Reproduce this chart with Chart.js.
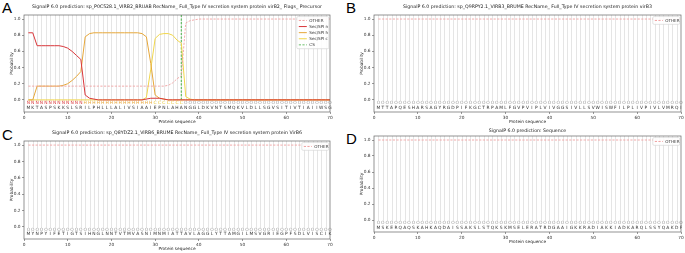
<!DOCTYPE html>
<html>
<head>
<meta charset="utf-8">
<script src="https://cdn.jsdelivr.net/npm/chart.js@4.4.0/dist/chart.umd.min.js"></script>
<style>
  body { margin: 0; background: #fff; width: 685px; height: 253px; position: relative; overflow: hidden; }
  .panel { position: absolute; }
  .tag { position: absolute; font: 15px "Liberation Sans", Arial, sans-serif; color: #000; }
</style>
</head>
<body>
<div class="tag" style="left:2px;top:-1px">A</div>
<div class="tag" style="left:346px;top:-1px">B</div>
<div class="tag" style="left:2px;top:126px">C</div>
<div class="tag" style="left:346px;top:130px">D</div>
<div class="panel" style="left:0;top:0"><canvas id="chartA" width="340" height="126"></canvas></div>
<div class="panel" style="left:340px;top:0"><canvas id="chartB" width="345" height="126"></canvas></div>
<div class="panel" style="left:0;top:126px"><canvas id="chartC" width="340" height="127"></canvas></div>
<div class="panel" style="left:340px;top:126px"><canvas id="chartD" width="345" height="127"></canvas></div>
<script>
// ---- data ----
var xTicks = [0, 10, 20, 30, 40, 50, 60, 70];
var yTicks = [0, 0.2, 0.4, 0.6, 0.8, 1.0];

var titleA = 'SignalP 6.0 prediction: sp_P0C528.1_VIRB2_BRUAB RecName_ Full_Type IV secretion system protein virB2_ Flags_ Precursor';
var seqA = 'MKTASPSKKSLSRILPHLLLALIVSIAAIEPNLAHANGGLDKVNTSMQKVLDLLSGVSITIVTIAIIWSG';
var regionsA = 'NNNNNNNNNNNNNHHHHHHHHHHHHHHHHCCCCCCCOOOOOOOOOOOOOOOOOOOOOOOOOOOOOOOOOO';
var otherA = [0.17, 0.17, 0.17, 0.17, 0.17, 0.17, 0.17, 0.17, 0.17, 0.17,
  0.17, 0.17, 0.17, 0.17, 0.17, 0.17, 0.17, 0.17, 0.17, 0.17,
  0.17, 0.17, 0.17, 0.17, 0.17, 0.17, 0.17, 0.17, 0.17, 0.17,
  0.17, 0.17, 0.18, 0.21, 0.26, 0.30, 0.95, 0.98, 0.99, 1.0,
  1.0, 1.0, 1.0, 1.0, 1.0, 1.0, 1.0, 1.0, 1.0, 1.0,
  1.0, 1.0, 1.0, 1.0, 1.0, 1.0, 1.0, 1.0, 1.0, 1.0,
  1.0, 1.0, 1.0, 1.0, 1.0, 1.0, 1.0, 1.0, 1.0, 1.0];
var secNA = [0.83, 0.83, 0.67, 0.67, 0.67, 0.67, 0.67, 0.67, 0.66, 0.64,
  0.60, 0.55, 0.50, 0.06, 0.02, 0.01, 0, 0, 0, 0,
  0, 0, 0, 0, 0, 0, 0, 0.01, 0.02, 0.02,
  0.02, 0.01, 0, 0, 0, 0, 0, 0, 0, 0,
  0, 0, 0, 0, 0, 0, 0, 0, 0, 0,
  0, 0, 0, 0, 0, 0, 0, 0, 0, 0,
  0, 0, 0, 0, 0, 0, 0, 0, 0, 0];
var secHA = [0, 0, 0.17, 0.17, 0.17, 0.17, 0.17, 0.17, 0.18, 0.20,
  0.24, 0.29, 0.35, 0.78, 0.82, 0.83, 0.83, 0.83, 0.83, 0.83,
  0.83, 0.83, 0.83, 0.83, 0.83, 0.83, 0.82, 0.78, 0.45, 0.06,
  0.02, 0.01, 0, 0, 0, 0, 0, 0, 0, 0,
  0, 0, 0, 0, 0, 0, 0, 0, 0, 0,
  0, 0, 0, 0, 0, 0, 0, 0, 0, 0,
  0, 0, 0, 0, 0, 0, 0, 0, 0, 0];
var secCA = [0, 0, 0, 0, 0, 0, 0, 0, 0, 0,
  0, 0, 0, 0, 0, 0, 0, 0, 0, 0,
  0, 0, 0, 0, 0, 0, 0, 0.03, 0.38, 0.76,
  0.81, 0.82, 0.82, 0.80, 0.74, 0.70, 0.04, 0.01, 0, 0,
  0, 0, 0, 0, 0, 0, 0, 0, 0, 0,
  0, 0, 0, 0, 0, 0, 0, 0, 0, 0,
  0, 0, 0, 0, 0, 0, 0, 0, 0, 0];
var csA = 36;

var titleB = 'SignalP 6.0 prediction: sp_Q9RPY2.1_VIRB3_BRUME RecName_ Full_Type IV secretion system protein virB3';
var seqB = 'MTTAPQESHARSAGYRGDPIFKGCTRPAMLFGVPVIPLVIVGGSIVLLSVWISWFILPLIVPIVLVMRQI';
var regionsB = 'OOOOOOOOOOOOOOOOOOOOOOOOOOOOOOOOOOOOOOOOOOOOOOOOOOOOOOOOOOOOOOOOOOOOOO';
var otherB = [1.0, 1.0, 1.0, 1.0, 1.0, 1.0, 1.0, 1.0, 1.0, 1.0,
  1.0, 1.0, 1.0, 1.0, 1.0, 1.0, 1.0, 1.0, 1.0, 1.0,
  1.0, 1.0, 1.0, 1.0, 1.0, 1.0, 1.0, 1.0, 1.0, 1.0,
  1.0, 1.0, 1.0, 1.0, 1.0, 1.0, 1.0, 1.0, 1.0, 1.0,
  1.0, 1.0, 1.0, 1.0, 1.0, 1.0, 1.0, 1.0, 1.0, 1.0,
  1.0, 1.0, 1.0, 1.0, 1.0, 1.0, 1.0, 1.0, 1.0, 1.0,
  1.0, 1.0, 1.0, 1.0, 1.0, 1.0, 1.0, 1.0, 1.0, 1.0];

var titleC = 'SignalP 6.0 prediction: sp_Q8YDZ2.1_VIRB6_BRUME RecName_ Full_Type IV secretion system protein VirB6';
var seqC = 'MYNPYIFETIGTSIHNGLNNTVTMVASNIMNMIATTAVLAGGLYTTAMGILMSVGRIEGPFSDLVISCIK';
var regionsC = 'OOOOOOOOOOOOOOOOOOOOOOOOOOOOOOOOOOOOOOOOOOOOOOOOOOOOOOOOOOOOOOOOOOOOOO';
var otherC = [1.0, 1.0, 1.0, 1.0, 1.0, 1.0, 1.0, 1.0, 1.0, 1.0,
  1.0, 1.0, 1.0, 1.0, 1.0, 1.0, 1.0, 1.0, 1.0, 1.0,
  1.0, 1.0, 1.0, 1.0, 1.0, 1.0, 1.0, 1.0, 1.0, 1.0,
  1.0, 1.0, 1.0, 1.0, 1.0, 1.0, 1.0, 1.0, 1.0, 1.0,
  1.0, 1.0, 1.0, 1.0, 1.0, 1.0, 1.0, 1.0, 1.0, 1.0,
  1.0, 1.0, 1.0, 1.0, 1.0, 1.0, 1.0, 1.0, 1.0, 1.0,
  1.0, 1.0, 1.0, 1.0, 1.0, 1.0, 1.0, 1.0, 1.0, 1.0];

var titleD = 'SignalP 6.0 prediction: Sequence';
var seqD = 'MSKERQAQSKAHKAQDAISSAKSLSTQKSKMSELERATRDGAAIGKKRADIAKKIADKARQLSSYQAKDF';
var regionsD = 'OOOOOOOOOOOOOOOOOOOOOOOOOOOOOOOOOOOOOOOOOOOOOOOOOOOOOOOOOOOOOOOOOOOOOO';
var otherD = [1.0, 1.0, 1.0, 1.0, 1.0, 1.0, 1.0, 1.0, 1.0, 1.0,
  1.0, 1.0, 1.0, 1.0, 1.0, 1.0, 1.0, 1.0, 1.0, 1.0,
  1.0, 1.0, 1.0, 1.0, 1.0, 1.0, 1.0, 1.0, 1.0, 1.0,
  1.0, 1.0, 1.0, 1.0, 1.0, 1.0, 1.0, 1.0, 1.0, 1.0,
  1.0, 1.0, 1.0, 1.0, 1.0, 1.0, 1.0, 1.0, 1.0, 1.0,
  1.0, 1.0, 1.0, 1.0, 1.0, 1.0, 1.0, 1.0, 1.0, 1.0,
  1.0, 1.0, 1.0, 1.0, 1.0, 1.0, 1.0, 1.0, 1.0, 1.0];

// ---- style ----
var FONT = '"DejaVu Sans", sans-serif';
var yMin = -0.15, yMax = 1.05;
var colOther = '#f0a0a0', colN = '#d9363a', colH = '#e6a73a', colC = '#f0d64c', colCS = '#6cbf6c';
var regionColors = { N: colN, H: colH, C: '#e8c83a', O: '#9a9a9a' };

function pts(arr) {
  return arr.map(function (v, i) { return { x: i + 1, y: v }; });
}

function lineSet(label, arr, color, dashed) {
  return {
    label: label, data: pts(arr), borderColor: color, borderWidth: dashed ? 0.9 : 1,
    borderDash: dashed ? [2.2, 1.4] : [], pointRadius: 0, tension: 0, fill: false
  };
}

var deco = {
  id: 'deco',
  beforeDatasetsDraw: function (chart) {
    var ctx = chart.ctx, a = chart.chartArea, x = chart.scales.x, y = chart.scales.y;
    ctx.save();
    ctx.strokeStyle = '#dadada';
    ctx.lineWidth = 0.7;
    var yb = y.getPixelForValue(-0.015);
    for (var i = 1; i < 70; i++) {
      var px = Math.round(x.getPixelForValue(i)) + 0.5;
      ctx.beginPath(); ctx.moveTo(px, a.top); ctx.lineTo(px, yb); ctx.stroke();
    }
    ctx.restore();
  },
  afterDatasetsDraw: function (chart, args, o) {
    var ctx = chart.ctx, a = chart.chartArea, x = chart.scales.x, y = chart.scales.y;
    ctx.save();
    // sequence letters
    ctx.textAlign = 'center';
    ctx.textBaseline = 'middle';
    ctx.font = '4.4px ' + FONT;
    for (var i = 0; i < o.seq.length; i++) {
      var px = x.getPixelForValue(i + 1);
      ctx.fillStyle = regionColors[o.regions[i]];
      ctx.fillText(o.regions[i], px, y.getPixelForValue(0) + 3.3);
      ctx.fillStyle = '#333';
      ctx.fillText(o.seq[i], px, y.getPixelForValue(0) + 7.6);
    }
    // frame
    ctx.strokeStyle = '#666';
    ctx.lineWidth = 0.7;
    ctx.strokeRect(a.left, a.top, a.right - a.left, a.bottom - a.top);
    // titles
    ctx.fillStyle = '#222';
    ctx.font = '4.7px ' + FONT;
    ctx.fillText(o.title, (a.left + a.right) / 2, o.titleY);
    ctx.font = '4.3px ' + FONT;
    ctx.fillText('Protein sequence', (a.left + a.right) / 2, a.bottom + 9.5);
    ctx.save();
    ctx.translate(a.left - 12.5, (a.top + a.bottom) / 2);
    ctx.rotate(-Math.PI / 2);
    ctx.fillText('Probability', 0, 0);
    ctx.restore();
    // legend
    var ds = chart.data.datasets;
    var rowH = 6.1, w = o.legendW, h = ds.length * rowH + 1.6;
    var lx = a.right - w - 1.2, ly = a.top + 1.6;
    ctx.fillStyle = 'rgba(255,255,255,0.9)';
    ctx.strokeStyle = '#d0d0d0';
    ctx.lineWidth = 0.6;
    ctx.beginPath();
    ctx.roundRect(lx, ly, w, h, 1.2);
    ctx.fill(); ctx.stroke();
    ctx.textAlign = 'left';
    ctx.font = '4.1px ' + FONT;
    for (var k = 0; k < ds.length; k++) {
      var cy = ly + 0.8 + rowH * (k + 0.5);
      ctx.strokeStyle = ds[k].borderColor;
      ctx.lineWidth = 1;
      ctx.setLineDash(ds[k].borderDash);
      ctx.beginPath(); ctx.moveTo(lx + 2, cy); ctx.lineTo(lx + 10, cy); ctx.stroke();
      ctx.setLineDash([]);
      ctx.fillStyle = '#333';
      ctx.fillText(ds[k].label, lx + 12.5, cy);
    }
    ctx.restore();
  }
};

function makeChart(id, box, datasets, o) {
  var cv = document.getElementById(id);
  var W = cv.width, H = cv.height;
  return new Chart(cv, {
    type: 'line',
    data: { datasets: datasets },
    plugins: [deco],
    options: {
      responsive: false,
      animation: false,
      layout: { padding: { left: 0, right: W - box.right, top: box.top, bottom: 0 } },
      plugins: {
        legend: { display: false },
        title: { display: false },
        tooltip: { enabled: false },
        deco: o
      },
      scales: {
        x: {
          type: 'linear', min: 0, max: 70,
          afterBuildTicks: function (s) { s.ticks = xTicks.map(function (v) { return { value: v }; }); },
          afterFit: function (s) { s.height = H - box.bottom; },
          grid: { drawOnChartArea: false, tickLength: 2, tickColor: '#555', tickWidth: 0.6 },
          border: { display: false },
          ticks: { autoSkip: false, maxRotation: 0, padding: 1, color: '#333', font: { size: 4.3, family: FONT } }
        },
        y: {
          min: yMin, max: yMax,
          afterBuildTicks: function (s) { s.ticks = yTicks.map(function (v) { return { value: v }; }); },
          afterFit: function (s) { s.width = box.left; },
          grid: { drawOnChartArea: false, tickLength: 2, tickColor: '#555', tickWidth: 0.6 },
          border: { display: false },
          ticks: {
            padding: 1.5, color: '#333', font: { size: 4.3, family: FONT },
            callback: function (v) { return v.toFixed(1); }
          }
        }
      }
    }
  });
}

makeChart('chartA', { left: 24, right: 330, top: 15, bottom: 112 }, [
  lineSet('OTHER', otherA, colOther, true),
  lineSet('Sec/SPI n', secNA, colN, false),
  lineSet('Sec/SPI h', secHA, colH, false),
  lineSet('Sec/SPI c', secCA, colC, false),
  { label: 'CS', data: [{ x: csA, y: 0 }, { x: csA, y: yMax }], borderColor: colCS, borderWidth: 1.3,
    borderDash: [2.2, 1.4], pointRadius: 0, tension: 0, fill: false }
], { seq: seqA, regions: regionsA, title: titleA, titleY: 6.5, legendW: 32 });

makeChart('chartB', { left: 34, right: 341, top: 15, bottom: 112 }, [
  lineSet('OTHER', otherB, colOther, true)
], { seq: seqB, regions: regionsB, title: titleB, titleY: 6.5, legendW: 27 });

makeChart('chartC', { left: 24, right: 330, top: 15, bottom: 113 }, [
  lineSet('OTHER', otherC, colOther, true)
], { seq: seqC, regions: regionsC, title: titleC, titleY: 6.5, legendW: 27 });

makeChart('chartD', { left: 34, right: 341, top: 10, bottom: 106 }, [
  lineSet('OTHER', otherD, colOther, true)
], { seq: seqD, regions: regionsD, title: titleD, titleY: 5, legendW: 27 });
</script>
</body>
</html>
